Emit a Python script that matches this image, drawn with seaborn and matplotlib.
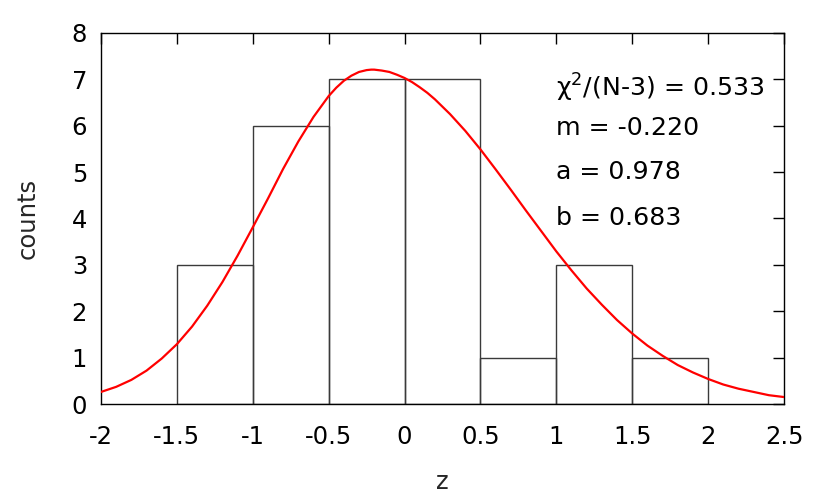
import matplotlib
matplotlib.use("Agg")
import matplotlib.pyplot as plt
import seaborn as sns
import numpy as np
import pandas as pd

# histogram data
bin_edges = [-1.5, -1.0, -0.5, 0.0, 0.5, 1.0, 1.5, 2.0]
bin_centers = [-1.25, -0.75, -0.25, 0.25, 0.75, 1.25, 1.75]
bin_counts = [3, 6, 7, 7, 1, 3, 1]

# fitted curve
curve_x = [-2.0, -1.9, -1.8, -1.7, -1.6, -1.5, -1.4, -1.3, -1.2, -1.1, -1.0,
           -0.9, -0.8, -0.7, -0.6, -0.5, -0.45, -0.4, -0.35, -0.3, -0.25,
           -0.22, -0.2, -0.15, -0.1, -0.05, 0.0, 0.05,
           0.1, 0.15, 0.2, 0.3, 0.4, 0.5, 0.6, 0.7, 0.8, 0.9, 1.0, 1.1, 1.2, 1.3,
           1.4, 1.5, 1.6, 1.7, 1.8, 1.9, 2.0, 2.1, 2.2, 2.3, 2.4, 2.5]
curve_y = [0.26, 0.37, 0.52, 0.72, 0.98, 1.29, 1.67, 2.12, 2.63, 3.20, 3.81,
           4.43, 5.07, 5.66, 6.19, 6.64, 6.82, 6.97, 7.08, 7.16, 7.20,
           7.21, 7.21, 7.19, 7.16, 7.10, 7.03, 6.94,
           6.83, 6.71, 6.57, 6.25, 5.89, 5.49, 5.06, 4.62, 4.17, 3.73, 3.29, 2.88,
           2.49, 2.14, 1.81, 1.52, 1.26, 1.04, 0.84, 0.68, 0.54, 0.42, 0.33,
           0.26, 0.19, 0.15]

x_ticks = [-2, -1.5, -1, -0.5, 0, 0.5, 1, 1.5, 2, 2.5]
x_ticklabels = ["-2", "-1.5", "-1", "-0.5", "0", "0.5", "1", "1.5", "2", "2.5"]
y_ticks = [0, 1, 2, 3, 4, 5, 6, 7, 8]

fit_texts = ["χ$^2$/(N-3) = 0.533", "m = -0.220", "a = 0.978", "b = 0.683"]
fit_text_y = [6.81, 5.95, 5.0, 4.01]

sns.set_style("white")
plt.rcParams["font.family"] = ["DejaVu Sans"]
plt.rcParams["mathtext.fontset"] = "dejavusans"

fig = plt.figure(figsize=(8.3, 4.98), dpi=100)
ax = fig.add_axes([101/830, 94/498, 683/830, 371/498])

hist_df = pd.DataFrame({"z": bin_centers, "n": bin_counts})
sns.histplot(data=hist_df, x="z", weights="n", bins=bin_edges, fill=False,
             element="bars", color="#3a3a3a", edgecolor="#3a3a3a",
             linewidth=1.0, ax=ax)

curve_df = pd.DataFrame({"z": curve_x, "f": curve_y})
sns.lineplot(data=curve_df, x="z", y="f", color="#ff0000", linewidth=1.6,
             ax=ax, zorder=5)

ax.set_xlim(-2, 2.5)
ax.set_ylim(0, 8)
ax.set_xticks(x_ticks)
ax.set_xticklabels(x_ticklabels)
ax.set_yticks(y_ticks)
ax.tick_params(direction="in", length=8, width=1, colors="#000000",
               labelsize=17.5, top=True, right=True, pad=10)
ax.tick_params(axis="x", pad=15)
for s in ax.spines.values():
    s.set_color("#000000")
    s.set_linewidth(1.0)

ax.set_xlabel("z", fontsize=17.5, labelpad=15)
ax.set_ylabel("counts", fontsize=17.5, labelpad=23)

for t, yy in zip(fit_texts, fit_text_y):
    ax.text(1.0, yy, t, fontsize=18.2, ha="left", va="center", color="#000000")

fig.savefig("out.png", dpi=100)
